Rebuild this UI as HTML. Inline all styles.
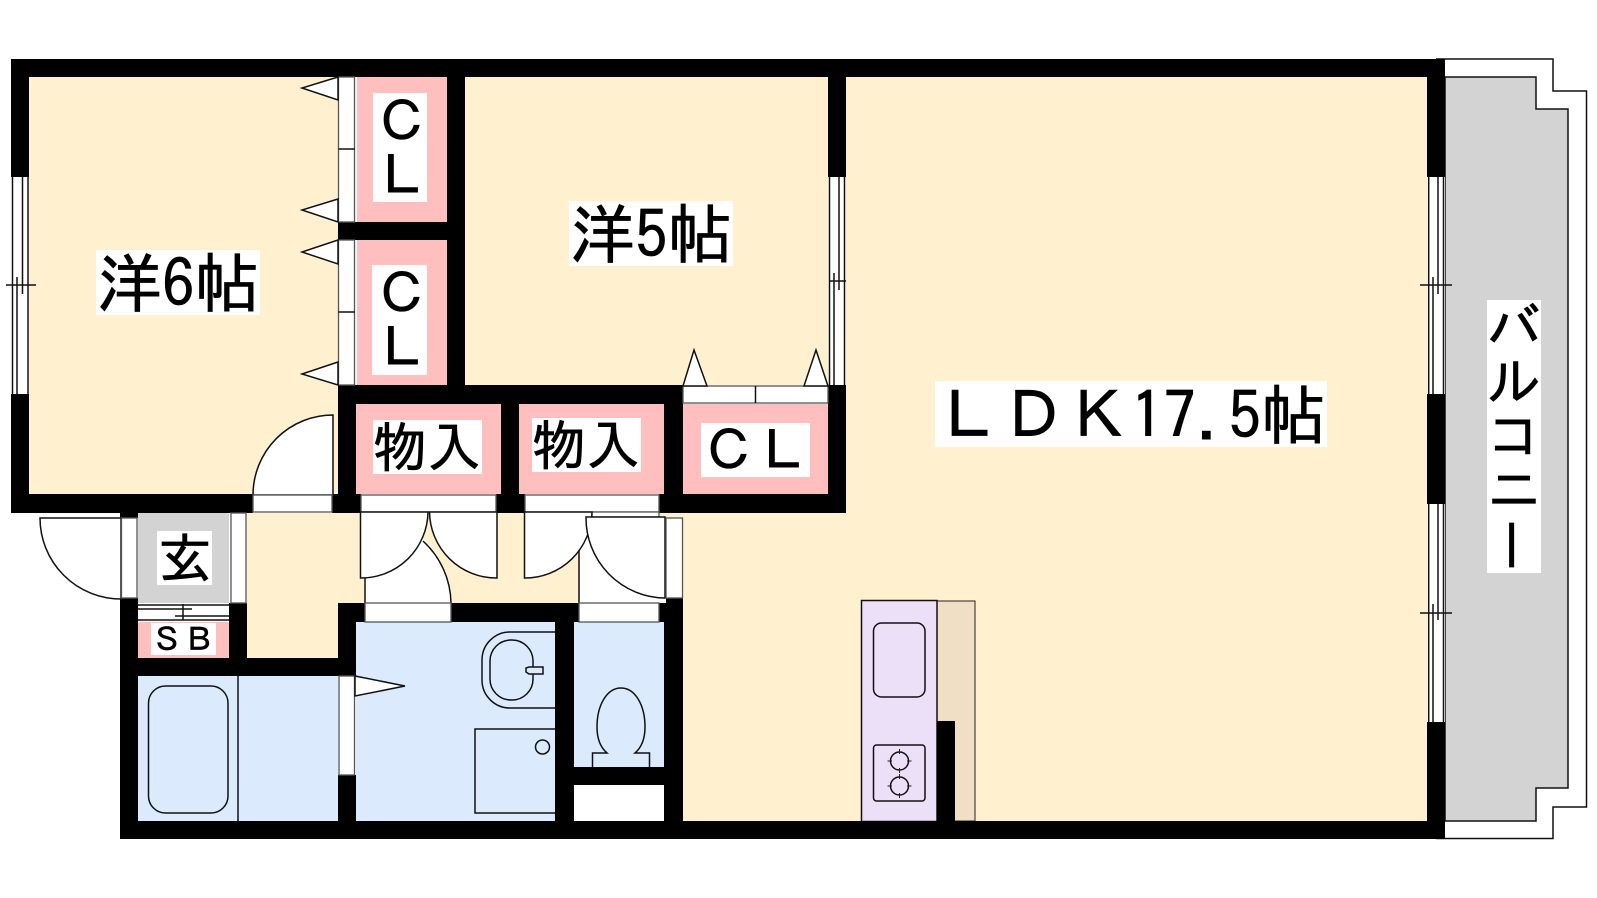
<!DOCTYPE html>
<html><head><meta charset="utf-8"><style>
html,body{margin:0;padding:0;background:#fff}
svg{display:block}
text{font-family:"IPAGothic","Liberation Sans","Noto Sans CJK JP",sans-serif;fill:#000;stroke:#000;stroke-width:.7}
.l{fill:none;stroke:#111;stroke-width:1.5}
.t{fill:none;stroke:#222;stroke-width:1}
.d{fill:#fff;stroke:#111;stroke-width:1.5}
.g{fill:#fff;stroke:#555;stroke-width:1.3}
</style></head><body>
<svg width="1597" height="898" viewBox="0 0 1597 898" xmlns="http://www.w3.org/2000/svg">
<rect width="1597" height="898" fill="#fff"/>
<!-- room fills -->
<rect x="29" y="77" width="309" height="417" fill="#fff0d0"/>
<rect x="465" y="77" width="364" height="308" fill="#fff0d0"/>
<path d="M846 77H1427V821H683V513H846Z" fill="#fff0d0"/>
<rect x="247" y="513" width="436" height="90" fill="#fff0d0"/>
<rect x="247" y="603" width="91" height="55" fill="#fff0d0"/>
<!-- pink -->
<rect x="357" y="77" width="90" height="145" fill="#ffbfbf"/>
<rect x="357" y="240" width="90" height="145" fill="#ffbfbf"/>
<rect x="356" y="404" width="145" height="90" fill="#ffbfbf"/>
<rect x="519" y="404" width="145" height="90" fill="#ffbfbf"/>
<rect x="683" y="404" width="145" height="90" fill="#ffbfbf"/>
<rect x="138" y="622" width="91" height="36" fill="#ffbfbf"/>
<!-- gray -->
<rect x="138" y="513" width="91" height="90" fill="#d3d3d3"/>
<path d="M1445 77H1536V109H1568V788H1536V821H1445Z" fill="#d3d3d3" stroke="#111" stroke-width="1.5"/>
<path class="l" d="M1436 59H1553V91H1586.500V807H1553V838.500H1436"/>
<!-- blue -->
<rect x="138" y="676" width="200" height="145" fill="#dbebfd"/>
<rect x="356" y="622" width="199" height="199" fill="#dbebfd"/>
<rect x="574" y="622" width="90" height="145" fill="#dbebfd"/>
<!-- kitchen -->
<rect x="937" y="601" width="38" height="220" fill="#f0dfc4" stroke="#222" stroke-width="1"/>
<rect x="861.500" y="600.500" width="75.500" height="221" fill="#ecdff8" stroke="#111" stroke-width="1.5"/>
<rect x="873.500" y="623" width="51.500" height="74" rx="8" class="l"/>
<rect x="873.500" y="745" width="51.500" height="56" rx="3" class="l"/>
<circle cx="899.500" cy="761" r="9" class="l"/><circle cx="899.500" cy="786" r="9" class="l"/>
<path class="t" d="M899.500 749V754M899.500 768V773M887.500 761H892M907 761H911.500M899.500 774V779M899.500 793V798M887.500 786H892M907 786H911.500"/>
<!-- walls -->
<g fill="#000">
<rect x="11" y="59" width="1434" height="18"/>
<rect x="11" y="59" width="18" height="118"/>
<rect x="11" y="394" width="18" height="119"/>
<rect x="11" y="494" width="242" height="19"/>
<rect x="332" y="494" width="29" height="19"/>
<rect x="496" y="494" width="29" height="19"/>
<rect x="659" y="494" width="187" height="19"/>
<rect x="338" y="385" width="345" height="19"/>
<rect x="338" y="385" width="18" height="128"/>
<rect x="501" y="385" width="18" height="128"/>
<rect x="664" y="385" width="19" height="128"/>
<rect x="828" y="59" width="18" height="118"/>
<rect x="828" y="385" width="18" height="128"/>
<rect x="447" y="59" width="18" height="340"/>
<rect x="338" y="222" width="127" height="18"/>
<rect x="1427" y="59" width="18" height="118"/>
<rect x="1427" y="394" width="18" height="110"/>
<rect x="1427" y="722" width="18" height="117"/>
<rect x="120" y="821" width="1325" height="18"/>
<rect x="120" y="598" width="18" height="241"/>
<rect x="120" y="513" width="18" height="5"/>
<rect x="229" y="603" width="18" height="55"/>
<rect x="120" y="658" width="236" height="18"/>
<rect x="338" y="603" width="18" height="73"/>
<rect x="338" y="775" width="18" height="64"/>
<rect x="338" y="603" width="27" height="19"/>
<rect x="451" y="603" width="128" height="19"/>
<rect x="659" y="598" width="24" height="24"/>
<rect x="555" y="603" width="19" height="236"/>
<rect x="664" y="603" width="19" height="236"/>
<rect x="555" y="767" width="128" height="18"/>
<rect x="937" y="721" width="18" height="100"/>
</g>
<rect x="574" y="785" width="90" height="36" fill="#fff"/>
<!-- windows -->
<rect x="11" y="177" width="18" height="217" fill="#fff"/>
<path class="l" d="M12.500 177V394M28 177V394M22.500 177V294M17 277V394M6 285H36"/>
<rect x="828" y="177" width="18" height="208" fill="#fff"/>
<path class="l" d="M829.500 177V385M844.500 177V385M839 177V290M834 273V385M829 281H846"/>
<rect x="1427" y="177" width="18" height="217" fill="#fff"/>
<path class="l" d="M1428.700 177V394M1443.500 177V394M1438 177V294M1433 277V394M1420 285H1452"/>
<rect x="1427" y="504" width="18" height="218" fill="#fff"/>
<path class="l" d="M1428.700 504V722M1443.500 504V722M1438 504V620M1433 604V722M1420 613H1452"/>
<!-- closet doors -->
<rect x="338.500" y="77" width="16" height="145" class="g"/><path class="l" d="M338.500 149H355"/>
<rect x="338.500" y="240" width="16" height="145" class="g"/><path class="l" d="M338.500 312H355"/>
<path class="d" d="M338 77L302 88L338 100Z"/>
<path class="d" d="M338 199L302 210L338 222Z"/>
<path class="d" d="M338 240L302 252L338 264Z"/>
<path class="d" d="M338 362L302 374L338 385Z"/>
<rect x="683" y="386" width="145" height="17" class="g"/><path class="l" d="M755.500 386V403"/>
<path class="d" d="M683 386L694 350L707 386Z"/>
<path class="d" d="M804 386L816 350L828 386Z"/>
<!-- door: room 6 -->
<path class="d" d="M333 495V415A80 80 0 0 0 253 495Z"/>
<rect x="253" y="495" width="79" height="17" class="g"/>
<!-- door: entry -->
<path class="d" d="M121 518H40A81 81 0 0 0 121 599Z"/>
<rect x="121.500" y="518" width="15.500" height="80" class="g"/>
<rect x="231" y="513" width="15" height="90" class="g"/>
<!-- wash door behind closet door -->
<path fill="#fff" d="M365 603V517H380A86 86 0 0 1 451 603Z"/>
<path class="l" d="M365 578V603M423 541A86 86 0 0 1 451 603"/>
<rect x="365" y="603" width="86" height="19" class="g"/>
<rect x="361" y="495" width="135" height="17" class="g"/>
<path class="d" d="M360.500 512V578A67 67 0 0 0 428 512Z"/>
<path class="d" d="M497 512V578A67 67 0 0 1 429.500 512Z"/>
<!-- toilet door -->
<path fill="#fff" d="M579 603V523H666V603Z"/>
<path class="l" d="M579 535V603"/>
<rect x="525" y="495" width="134" height="17" class="g"/>
<rect x="592" y="512" width="67" height="5" class="g"/>
<path class="d" d="M524.500 512V578A67 67 0 0 0 592 512Z"/>
<path class="d" d="M665 517H586A80 80 0 0 0 665 598Z"/>
<rect x="666" y="518" width="16.500" height="80" class="g"/>
<rect x="579" y="603" width="80" height="19" class="g"/>
<!-- SB shutter -->
<rect x="138" y="604" width="91" height="18" fill="#fff"/>
<path class="l" d="M138 605H229M138 609H192M175 616H229M138 620H229M183 604V620"/>
<!-- bath -->
<path class="l" d="M238 676V821"/>
<rect x="148.500" y="686" width="79.500" height="127" rx="17" class="l"/>
<rect x="339" y="676" width="15.500" height="99" class="g"/>
<path class="d" d="M355 676L405 686L355 696Z"/>
<!-- wash -->
<path class="l" d="M555 632H510A28 28 0 0 0 482 660V680A28 28 0 0 0 510 708H555"/>
<rect x="490" y="640" width="43" height="60" rx="21" class="l"/>
<path d="M526 668L529 667H543V674H529L526 672Z" fill="#dbebfd" stroke="#111" stroke-width="1.5"/>
<path class="l" d="M555 729H475V813H555"/>
<circle cx="542.500" cy="747" r="7" class="l"/>
<!-- toilet -->
<path class="l" d="M592.500 767V753H607C600 747 597 738 597 727C597 705 607 688 621 688C635 688 645 705 645 727C645 738 642 747 635 753H649.500V767"/>
<!-- labels -->
<g fill="#fff">
<rect x="96" y="250" width="164" height="65"/>
<rect x="569" y="201" width="164" height="65"/>
<rect x="935" y="381" width="392" height="66"/>
<rect x="373" y="93" width="54" height="109"/>
<rect x="372" y="265" width="55" height="110"/>
<rect x="373" y="420" width="109" height="54"/>
<rect x="532" y="418" width="109" height="54"/>
<rect x="701" y="423" width="109" height="54"/>
<rect x="157" y="531" width="55" height="54"/>
<rect x="151" y="623" width="65" height="32"/>
<rect x="1487" y="300" width="54" height="273"/>
</g>
<text x="97" y="307" font-size="65">洋6帖</text>
<text x="570" y="258" font-size="65">洋5帖</text>
<text x="936" y="439" font-size="65">ＬＤＫ17<tspan style="stroke:none">.</tspan>5帖</text>
<text x="375" y="141" font-size="54">Ｃ</text>
<text x="375" y="195" font-size="54">Ｌ</text>
<text x="375" y="313" font-size="54">Ｃ</text>
<text x="375" y="367" font-size="54">Ｌ</text>
<text x="373" y="467" font-size="54">物入</text>
<text x="532" y="465" font-size="54">物入</text>
<text x="702" y="470" font-size="54">ＣＬ</text>
<text x="158" y="578" font-size="54">玄</text>
<text x="151" y="651" font-size="32">ＳＢ</text>
<text x="1487" y="347" font-size="54">バ</text>
<text x="1487" y="401" font-size="54">ル</text>
<text x="1487" y="455" font-size="54">コ</text>
<text x="1487" y="509" font-size="54">ニ</text>
<text x="1487" y="566" font-size="54" transform="rotate(90 1513 544)">ー</text>
</svg>
</body></html>
